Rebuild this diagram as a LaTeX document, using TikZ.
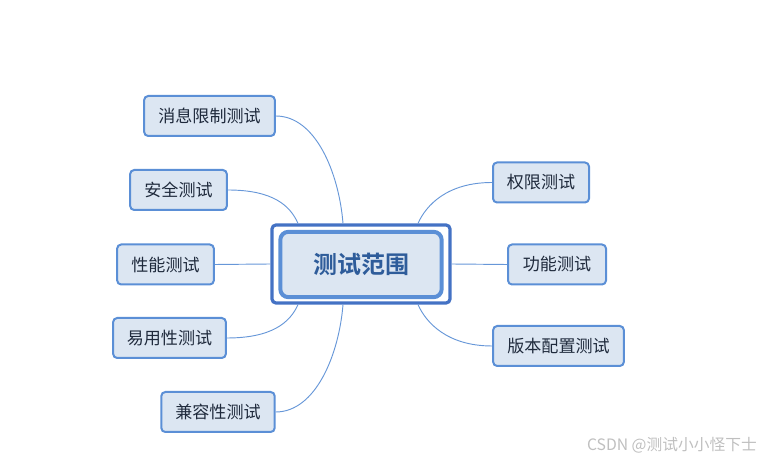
\documentclass[tikz,border=0pt]{standalone}
\usepackage{fontspec}
\newfontfamily\cjk{Noto Sans CJK SC}
\newfontfamily\cjkb{Noto Sans CJK SC Bold}
\usetikzlibrary{calc}
\definecolor{boxfill}{HTML}{DCE6F2}
\definecolor{boxline}{HTML}{5B8FD6}
\definecolor{outerline}{HTML}{4472C4}
\definecolor{linkc}{HTML}{6797D8}
\definecolor{titletext}{HTML}{2E5C9A}
\definecolor{leaftext}{HTML}{1F2A3C}
\definecolor{wm}{HTML}{BFBFBF}
\tikzset{
  leaf/.style={draw=boxline, fill=boxfill, line width=1.5pt, rounded corners=3pt,
    minimum height=30pt, inner xsep=6pt, font=\cjk\fontsize{12.8}{14}\selectfont, text=leaftext},
  link/.style={draw=linkc, line width=0.7pt},
}
\begin{document}
\begin{tikzpicture}[x=0.75pt,y=-0.75pt]
\useasboundingbox (0,0) rectangle (765,459);
% central
\node[draw=outerline, line width=2.4pt, rounded corners=3pt, minimum width=133.5pt, minimum height=58.5pt] (c) at (361,264) {};
\node[draw=boxline, fill=boxfill, line width=3pt, rounded corners=6pt, minimum width=121pt, minimum height=49pt,
  font=\cjkb\fontsize{18}{20}\selectfont, text=titletext] (ci) at (361,264.5) {测试范围};
% leaves
\node[leaf, minimum width=98pt] (l1) at (209.5,116) {消息限制测试};
\node[leaf, minimum width=72.5pt] (l2) at (178.5,190) {安全测试};
\node[leaf, minimum width=72.5pt] (l3) at (165.5,264.5) {性能测试};
\node[leaf, minimum width=84.5pt] (l4) at (169.5,338) {易用性测试};
\node[leaf, minimum width=85pt] (l5) at (218,412) {兼容性测试};
\node[leaf, minimum width=72pt] (r1) at (541,182.5) {权限测试};
\node[leaf, minimum width=73.5pt] (r2) at (557,264.5) {功能测试};
\node[leaf, minimum width=98pt] (r3) at (558.5,346) {版本配置测试};
% connector ends on central frame
\coordinate (t1) at ($(c.north)+(-18,0)$);
\coordinate (t2) at ($(c.north)+(-63,0)$);
\coordinate (t3) at ($(c.north)+(57,0)$);
\coordinate (b1) at ($(c.south)+(-18,0)$);
\coordinate (b2) at ($(c.south)+(-63,0)$);
\coordinate (b3) at ($(c.south)+(57,0)$);
% connectors
\draw[link] (l1.east) .. controls ($(l1.east)+(40,0)$) and ($(t1)+(-4,-50)$) .. (t1);
\draw[link] (l2.east) .. controls ($(l2.east)+(45,0)$) and ($(t2)+(-8,-18)$) .. (t2);
\draw[link] (l3.east) -- (c.west);
\draw[link] (l4.east) .. controls ($(l4.east)+(45,0)$) and ($(b2)+(-8,18)$) .. (b2);
\draw[link] (l5.east) .. controls ($(l5.east)+(40,0)$) and ($(b1)+(-4,50)$) .. (b1);
\draw[link] (r1.west) .. controls ($(r1.west)+(-45,0)$) and ($(t3)+(8,-18)$) .. (t3);
\draw[link] (c.east) -- (r2.west);
\draw[link] (r3.west) .. controls ($(r3.west)+(-45,0)$) and ($(b3)+(8,18)$) .. (b3);
% watermark
\node[anchor=east, text=wm, font=\cjk\fontsize{11.8}{13}\selectfont, inner sep=0pt] (wmk) at (757,445) {CSDN @测试小小怪下士};
\end{tikzpicture}
\end{document}
